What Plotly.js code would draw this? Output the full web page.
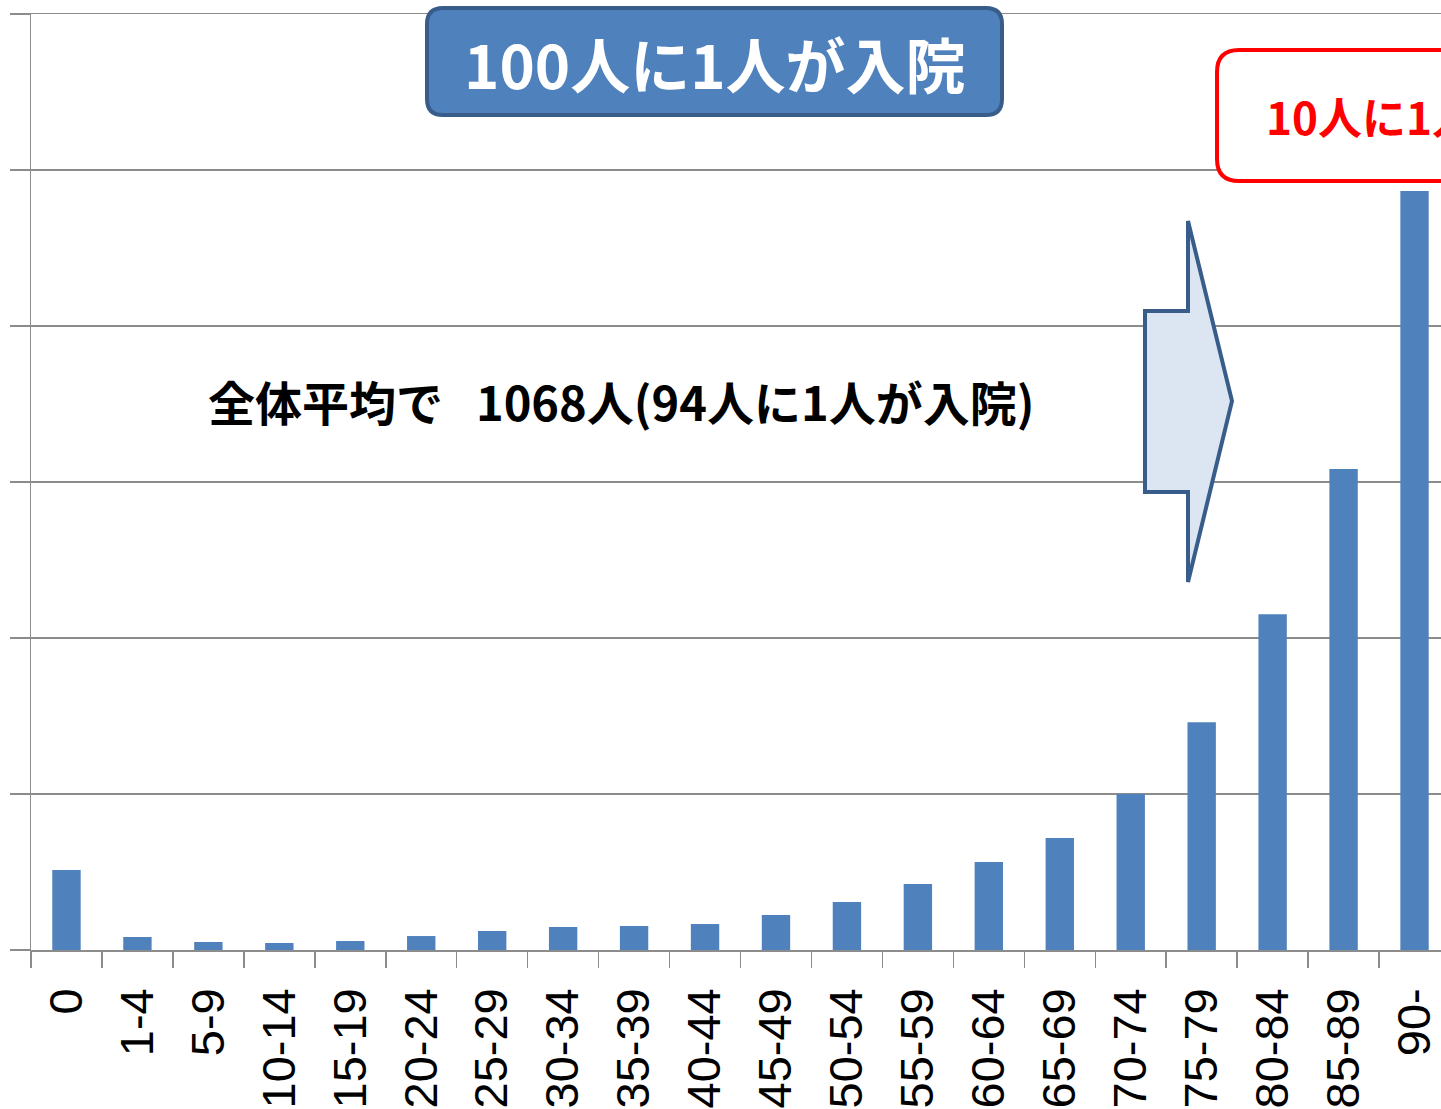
<!DOCTYPE html>
<html>
<head>
<meta charset="utf-8">
<script src="https://cdn.plot.ly/plotly-3.0.1.min.js"></script>
<style>
  html, body { margin: 0; padding: 0; background: #ffffff; overflow: hidden; }
  #chart { width: 1441px; height: 1109px; }
</style>
</head>
<body>
<div id="chart"></div>
<script>
// Age groups (x categories)
const ageGroups = ["0", "1-4", "5-9", "10-14", "15-19", "20-24", "25-29", "30-34", "35-39", "40-44",
                   "45-49", "50-54", "55-59", "60-64", "65-69", "70-74", "75-79", "80-84", "85-89", "90-"];
// Inpatients per 100,000 population
const inpatients = [1026, 167, 103, 90, 115, 179, 244, 295, 308, 333,
                    449, 615, 846, 1128, 1436, 2000, 2920, 4305, 6167, 9731];
// y axis gridline values
const yTicks = [0, 2000, 4000, 6000, 8000, 10000, 12000];

// annotation texts
const titleText = "100人に1人が入院";
const oldText = "10人に1人が入院";
const avgText = "全体平均で\u2002\u20091068人(94人に1人が入院)";

// plot area in pixels (for placing decorations)
const W = 1441, H = 1109;
const L = 31, R = 1441, T = 14, B = 950;
function px(x) { return (x - L) / (R - L); }
function py(y) { return (B - y) / (B - T); }
function roundRect(x0, y0, x1, y1, r) {
  return "M" + px(x0 + r) + "," + py(y0) +
    " L" + px(x1 - r) + "," + py(y0) +
    " Q" + px(x1) + "," + py(y0) + " " + px(x1) + "," + py(y0 + r) +
    " L" + px(x1) + "," + py(y1 - r) +
    " Q" + px(x1) + "," + py(y1) + " " + px(x1 - r) + "," + py(y1) +
    " L" + px(x0 + r) + "," + py(y1) +
    " Q" + px(x0) + "," + py(y1) + " " + px(x0) + "," + py(y1 - r) +
    " L" + px(x0) + "," + py(y0 + r) +
    " Q" + px(x0) + "," + py(y0) + " " + px(x0 + r) + "," + py(y0) + " Z";
}
function polyPath(pts) {
  return pts.map((p, i) => (i ? "L" : "M") + px(p[0]) + "," + py(p[1])).join(" ") + " Z";
}

const cjk = "'Noto Sans CJK JP', 'Noto Sans', sans-serif";
const gridCol = "#8c8c8c";

const trace = {
  type: "bar",
  x: ageGroups,
  y: inpatients,
  marker: { color: "#4F81BD", line: { width: 0 } },
  hoverinfo: "skip"
};

const layout = {
  width: W, height: H,
  margin: { l: L, r: W - R, t: T, b: H - B, pad: 0 },
  paper_bgcolor: "#ffffff",
  plot_bgcolor: "#ffffff",
  showlegend: false,
  bargap: 0.6,
  xaxis: {
    type: "category",
    range: [-0.5, -0.5 + (R - L) / 70.95],
    showline: true, mirror: true, linecolor: gridCol, linewidth: 1.5,
    ticks: "outside", tickson: "boundaries", ticklen: 16, tickwidth: 1.5, tickcolor: gridCol,
    tickangle: -90,
    ticklabelstandoff: 18,
    tickfont: { family: "'Liberation Sans', Arial, sans-serif", size: 47, color: "#000000" },
    showgrid: false, zeroline: false, fixedrange: true
  },
  yaxis: {
    range: [0, 12000],
    tickvals: yTicks,
    showticklabels: false,
    showgrid: true, gridcolor: gridCol, gridwidth: 1.5,
    showline: true, linecolor: gridCol, linewidth: 1.5,
    ticks: "outside", ticklen: 20, tickwidth: 1.5, tickcolor: gridCol,
    zeroline: false, fixedrange: true
  },
  shapes: [
    { type: "path", xref: "paper", yref: "paper", layer: "above",
      path: roundRect(427, 8, 1002, 115, 16),
      fillcolor: "#4F81BD", line: { color: "#385D8A", width: 4 } },
    { type: "path", xref: "paper", yref: "paper", layer: "above",
      path: roundRect(1217, 50, 1520, 181, 22),
      fillcolor: "#ffffff", line: { color: "#ff0000", width: 4 } },
    { type: "path", xref: "paper", yref: "paper", layer: "above",
      path: polyPath([[1145, 311], [1188, 311], [1188, 221], [1232, 401], [1188, 582], [1188, 492], [1145, 492]]),
      fillcolor: "#DCE6F2", line: { color: "#385D8A", width: 4 } }
  ],
  annotations: [
    { xref: "paper", yref: "paper", x: px(714.5), y: py(62), xanchor: "center", yanchor: "middle",
      text: "<b>" + titleText + "</b>", showarrow: false,
      font: { family: cjk, size: 60, color: "#ffffff" } },
    { xref: "paper", yref: "paper", x: px(1264), y: py(116), xanchor: "left", yanchor: "middle",
      text: "<b>" + oldText + "</b>", showarrow: false,
      font: { family: cjk, size: 44, color: "#ff0000" } },
    { xref: "paper", yref: "paper", x: px(206), y: py(400), xanchor: "left", yanchor: "middle",
      text: "<b>" + avgText + "</b>", showarrow: false,
      font: { family: cjk, size: 47, color: "#000000" } }
  ]
};

Plotly.newPlot("chart", [trace], layout, { staticPlot: true, displayModeBar: false });
</script>
</body>
</html>
